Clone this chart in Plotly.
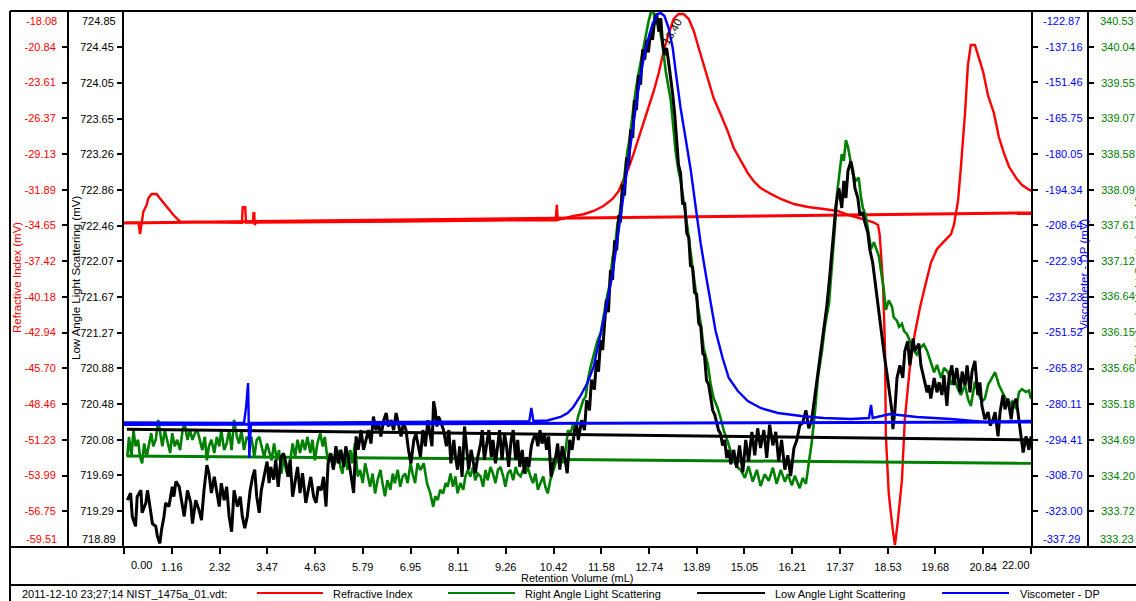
import plotly.graph_objects as go

# ---------------------------------------------------------------- data
# Retention volume (mL) / detector response (mV)

# Refractive Index
ri_x = [0.07, 0.35, 0.39, 0.43, 0.47, 0.55, 0.59, 0.67, 0.79, 0.87,
        1.04, 1.20, 1.36, 2.86, 2.88, 2.94, 2.96, 3.13, 3.14, 3.16,
        3.17, 3.20, 6.70, 10.10, 10.47, 10.50, 10.52, 10.90, 11.15, 11.39,
        11.63, 11.85, 12.00, 12.12, 12.24, 12.36, 12.48, 12.60, 12.72, 12.85,
        12.97, 13.09, 13.21, 13.33, 13.45, 13.57, 13.70, 13.82, 13.94, 14.06,
        14.18, 14.30, 14.47, 14.64, 14.79, 14.96, 15.13, 15.27, 15.44, 15.69,
        15.93, 16.25, 16.59, 16.97, 17.31, 17.58, 17.92, 18.16, 18.29, 18.33,
        18.41, 18.46, 18.48, 18.55, 18.65, 18.70, 18.77, 18.87, 18.94, 19.06,
        19.18, 19.31, 19.45, 19.57, 19.72, 19.89, 20.06, 20.13, 20.23, 20.30,
        20.40, 20.47, 20.54, 20.64, 20.71, 20.84, 20.96, 21.10, 21.22, 21.35,
        21.47, 21.64, 21.78, 22.00]
ri_mv = [-34.44, -34.44, -35.32, -34.23, -33.59, -33.07, -32.56, -32.22, -32.22, -32.56,
         -33.20, -33.85, -34.36, -34.44, -33.25, -33.25, -34.44, -34.44, -33.71, -33.71,
         -34.62, -34.44, -34.35, -34.23, -34.23, -33.07, -34.23, -33.92, -33.79, -33.54,
         -33.15, -32.61, -31.99, -31.06, -30.21, -29.13, -27.97, -26.81, -25.58, -24.26,
         -22.87, -21.17, -19.86, -18.70, -18.31, -18.31, -18.70, -19.62, -20.94, -22.17,
         -23.49, -24.80, -26.04, -27.35, -28.67, -29.67, -30.60, -31.22, -31.76, -32.22,
         -32.61, -33.00, -33.23, -33.38, -33.54, -33.85, -34.16, -34.39, -34.62, -35.39,
         -39.10, -44.36, -50.93, -55.41, -58.27, -59.36, -57.50, -54.33, -49.62, -45.67,
         -43.05, -40.96, -39.10, -37.56, -36.47, -35.86, -35.32, -34.62, -32.76, -30.14,
         -25.96, -22.25, -20.71, -20.71, -21.40, -22.79, -24.65, -25.96, -27.82, -29.13,
         -30.14, -30.99, -31.53, -31.99]
ri_base_x = [0.00, 22.00]
ri_base_mv = [-34.46, -33.69]

# Right Angle Light Scattering
rals_x = [0.08, 0.12, 0.18, 0.23, 0.28, 0.34, 0.39, 0.44, 0.49, 0.55,
          0.61, 0.66, 0.71, 0.77, 0.83, 0.87, 0.93, 0.99, 1.05, 1.12,
          1.17, 1.23, 1.29, 1.36, 1.42, 1.47, 1.54, 1.60, 1.66, 1.72,
          1.78, 1.85, 1.90, 1.96, 2.01, 2.06, 2.12, 2.19, 2.25, 2.31,
          2.36, 2.43, 2.49, 2.55, 2.61, 2.67, 2.74, 2.79, 2.85, 2.91,
          2.98, 3.04, 3.09, 3.16, 3.22, 3.28, 3.33, 3.40, 3.47, 3.52,
          3.58, 3.64, 3.71, 3.76, 3.82, 3.87, 3.93, 3.98, 4.03, 4.09,
          4.15, 4.21, 4.27, 4.33, 4.39, 4.45, 4.52, 4.57, 4.63, 4.69,
          4.76, 4.82, 4.87, 4.94, 5.00, 5.06, 5.12, 5.18, 5.25, 5.30,
          5.36, 5.42, 5.49, 5.54, 5.60, 5.67, 5.73, 5.79, 5.85, 5.91,
          5.97, 6.03, 6.09, 6.15, 6.22, 6.27, 6.33, 6.39, 6.46, 6.52,
          6.57, 6.64, 6.70, 6.76, 6.82, 6.88, 6.95, 7.00, 7.06, 7.12,
          7.19, 7.27, 7.35, 7.43, 7.50, 7.55, 7.61, 7.67, 7.74, 7.80,
          7.85, 7.92, 7.98, 8.04, 8.09, 8.16, 8.23, 8.28, 8.34, 8.40,
          8.47, 8.52, 8.58, 8.65, 8.71, 8.77, 8.82, 8.89, 8.95, 9.01,
          9.07, 9.13, 9.20, 9.25, 9.31, 9.37, 9.44, 9.50, 9.55, 9.62,
          9.68, 9.74, 9.79, 9.86, 9.92, 9.98, 10.04, 10.10, 10.17, 10.22,
          10.28, 10.34, 10.41, 10.47, 10.52, 10.59, 10.65, 10.71, 10.77, 10.83,
          10.90, 10.95, 11.01, 11.07, 11.14, 11.20, 11.25, 11.32, 11.38, 11.44,
          11.49, 11.56, 11.61, 11.66, 11.73, 11.78, 11.85, 11.90, 11.97, 12.02,
          12.09, 12.14, 12.21, 12.26, 12.34, 12.38, 12.46, 12.53, 12.58, 12.63,
          12.68, 12.72, 12.77, 12.82, 12.89, 12.97, 13.02, 13.06, 13.14, 13.21,
          13.26, 13.31, 13.38, 13.45, 13.50, 13.55, 13.60, 13.67, 13.74, 13.82,
          13.91, 13.99, 14.06, 14.16, 14.23, 14.30, 14.40, 14.47, 14.55, 14.64,
          14.72, 14.79, 14.89, 14.96, 15.06, 15.15, 15.25, 15.35, 15.44, 15.54,
          15.64, 15.74, 15.83, 15.93, 16.03, 16.10, 16.20, 16.27, 16.39, 16.46,
          16.54, 16.59, 16.68, 16.76, 16.83, 16.93, 17.00, 17.10, 17.17, 17.24,
          17.29, 17.36, 17.41, 17.46, 17.51, 17.56, 17.63, 17.68, 17.75, 17.82,
          17.87, 17.92, 17.99, 18.07, 18.12, 18.19, 18.24, 18.31, 18.36, 18.43,
          18.48, 18.55, 18.63, 18.67, 18.75, 18.80, 18.87, 18.92, 18.99, 19.06,
          19.11, 19.16, 19.23, 19.31, 19.40, 19.48, 19.57, 19.65, 19.72, 19.82,
          19.89, 19.99, 20.06, 20.13, 20.23, 20.30, 20.40, 20.47, 20.54, 20.64,
          20.71, 20.81, 20.88, 20.96, 21.05, 21.13, 21.22, 21.30, 21.37, 21.47,
          21.54, 21.64, 21.71, 21.78, 21.88, 21.95, 22.00]
rals_mv = [334.46, 334.73, 334.46, 334.82, 334.60, 334.69, 334.46, 334.37, 334.64, 334.46,
           334.64, 334.78, 334.60, 334.69, 334.96, 334.82, 334.60, 334.82, 334.69, 334.51,
           334.78, 334.60, 334.69, 334.55, 334.82, 334.91, 334.69, 334.82, 334.69, 334.78,
           334.82, 334.64, 334.55, 334.73, 334.41, 334.60, 334.69, 334.51, 334.73, 334.60,
           334.82, 334.55, 334.64, 334.82, 334.55, 334.96, 334.73, 334.64, 334.82, 334.55,
           334.73, 334.69, 334.73, 334.46, 334.69, 334.73, 334.60, 334.46, 334.64, 334.55,
           334.41, 334.64, 334.41, 334.55, 334.23, 334.46, 334.28, 334.19, 334.37, 334.64,
           334.46, 334.69, 334.51, 334.69, 334.55, 334.73, 334.51, 334.69, 334.41, 334.64,
           334.78, 334.60, 334.73, 334.41, 334.51, 334.32, 334.37, 334.55, 334.32, 334.23,
           334.51, 334.28, 334.55, 334.37, 334.64, 334.19, 334.28, 334.10, 334.37, 334.19,
           334.05, 334.23, 333.96, 334.14, 334.28, 334.10, 333.92, 334.14, 334.01, 334.23,
           334.10, 334.28, 334.05, 334.19, 334.23, 334.10, 334.37, 334.23, 334.10, 334.37,
           334.28, 334.37, 334.10, 333.96, 333.78, 333.92, 333.87, 334.01, 333.96, 334.10,
           334.05, 334.23, 334.05, 334.19, 333.96, 334.10, 334.01, 334.19, 334.28, 334.19,
           334.32, 334.14, 334.23, 334.19, 334.05, 334.28, 334.14, 334.32, 334.23, 334.10,
           334.28, 334.32, 334.19, 334.05, 334.23, 334.28, 334.14, 334.32, 334.23, 334.19,
           334.28, 334.23, 334.32, 334.19, 334.10, 334.23, 334.01, 334.10, 334.19, 334.05,
           333.96, 334.14, 334.28, 334.37, 334.41, 334.51, 334.37, 334.55, 334.82, 334.78,
           334.91, 334.82, 335.00, 335.10, 335.23, 335.28, 335.50, 335.69, 335.82, 335.91,
           336.05, 336.14, 336.31, 336.46, 336.68, 336.80, 337.17, 337.28, 337.63, 337.75,
           338.08, 338.23, 338.62, 338.77, 339.17, 339.32, 339.62, 339.84, 339.94, 340.11,
           340.26, 340.38, 340.49, 340.60, 340.35, 340.43, 340.20, 340.08, 339.71, 339.48,
           339.32, 339.03, 338.62, 338.35, 338.23, 338.04, 337.81, 337.57, 337.26, 336.89,
           336.54, 336.27, 335.94, 335.72, 335.45, 335.26, 335.12, 334.99, 334.81, 334.67,
           334.54, 334.40, 334.31, 334.28, 334.17, 334.33, 334.12, 334.28, 334.06, 334.22,
           334.13, 334.31, 334.09, 334.28, 334.12, 334.22, 334.07, 334.20, 334.03, 334.17,
           334.09, 334.28, 334.65, 335.07, 335.53, 335.90, 336.23, 336.55, 337.00, 337.56,
           338.02, 338.35, 338.58, 338.49, 338.77, 338.68, 338.49, 338.31, 338.22, 338.26,
           338.02, 337.85, 337.75, 337.48, 337.29, 337.38, 337.29, 337.19, 337.00, 336.73,
           336.46, 336.59, 336.50, 336.36, 336.31, 336.23, 336.27, 336.17, 336.13, 336.04,
           335.94, 335.90, 335.85, 335.94, 335.99, 335.90, 335.76, 335.61, 335.71, 335.53,
           335.67, 335.61, 335.44, 335.53, 335.38, 335.30, 335.44, 335.25, 335.15, 335.48,
           335.34, 335.21, 335.25, 335.44, 335.53, 335.61, 335.44, 335.34, 335.25, 335.15,
           335.21, 335.11, 335.34, 335.38, 335.34, 335.36, 335.25]
rals_base_x = [0.07, 22.00]
rals_base_mv = [334.47, 334.37]

# Low Angle Light Scattering
lals_x = [0.08, 0.16, 0.20, 0.28, 0.32, 0.41, 0.44, 0.53, 0.57, 0.65,
          0.69, 0.77, 0.81, 0.87, 0.91, 0.97, 1.01, 1.09, 1.17, 1.21,
          1.26, 1.34, 1.39, 1.46, 1.54, 1.62, 1.66, 1.74, 1.82, 1.88,
          1.94, 2.01, 2.06, 2.12, 2.19, 2.25, 2.31, 2.36, 2.43, 2.49,
          2.55, 2.61, 2.67, 2.75, 2.82, 2.87, 2.93, 2.99, 3.06, 3.12,
          3.17, 3.22, 3.28, 3.33, 3.40, 3.47, 3.52, 3.56, 3.63, 3.68,
          3.74, 3.81, 3.87, 3.93, 3.98, 4.03, 4.09, 4.15, 4.21, 4.27,
          4.33, 4.41, 4.47, 4.53, 4.60, 4.66, 4.71, 4.78, 4.84, 4.90,
          4.95, 5.02, 5.08, 5.14, 5.20, 5.26, 5.33, 5.38, 5.44, 5.51,
          5.57, 5.63, 5.68, 5.75, 5.81, 5.87, 5.93, 5.99, 6.05, 6.11,
          6.17, 6.23, 6.30, 6.36, 6.41, 6.48, 6.54, 6.60, 6.65, 6.72,
          6.78, 6.84, 6.90, 6.96, 7.03, 7.08, 7.14, 7.19, 7.25, 7.31,
          7.37, 7.43, 7.47, 7.51, 7.55, 7.59, 7.63, 7.69, 7.75, 7.82,
          7.88, 7.93, 8.00, 8.04, 8.09, 8.14, 8.20, 8.26, 8.32, 8.36,
          8.42, 8.47, 8.52, 8.58, 8.65, 8.69, 8.74, 8.79, 8.85, 8.91,
          8.95, 9.01, 9.07, 9.11, 9.17, 9.23, 9.28, 9.33, 9.39, 9.44,
          9.50, 9.55, 9.60, 9.66, 9.71, 9.76, 9.82, 9.88, 9.92, 9.98,
          10.04, 10.09, 10.14, 10.20, 10.25, 10.30, 10.36, 10.41, 10.47, 10.52,
          10.57, 10.63, 10.69, 10.75, 10.81, 10.87, 10.93, 10.98, 11.02, 11.10,
          11.17, 11.22, 11.29, 11.34, 11.41, 11.46, 11.51, 11.56, 11.61, 11.66,
          11.70, 11.75, 11.80, 11.85, 11.90, 11.95, 12.00, 12.04, 12.09, 12.14,
          12.19, 12.24, 12.29, 12.34, 12.38, 12.43, 12.48, 12.53, 12.58, 12.63,
          12.68, 12.72, 12.77, 12.82, 12.87, 12.92, 12.97, 13.02, 13.06, 13.11,
          13.16, 13.21, 13.26, 13.31, 13.36, 13.40, 13.45, 13.50, 13.55, 13.60,
          13.65, 13.70, 13.74, 13.79, 13.84, 13.89, 13.94, 13.99, 14.04, 14.08,
          14.13, 14.18, 14.23, 14.28, 14.33, 14.38, 14.42, 14.47, 14.52, 14.57,
          14.62, 14.67, 14.72, 14.79, 14.86, 14.93, 15.01, 15.08, 15.15, 15.23,
          15.30, 15.37, 15.44, 15.52, 15.59, 15.66, 15.74, 15.81, 15.88, 15.95,
          16.03, 16.10, 16.17, 16.25, 16.32, 16.39, 16.46, 16.54, 16.61, 16.68,
          16.76, 16.83, 16.90, 16.97, 17.05, 17.12, 17.19, 17.27, 17.34, 17.41,
          17.46, 17.51, 17.56, 17.63, 17.68, 17.73, 17.80, 17.85, 17.92, 17.97,
          18.04, 18.09, 18.16, 18.24, 18.29, 18.33, 18.38, 18.46, 18.50, 18.55,
          18.63, 18.65, 18.70, 18.75, 18.82, 18.89, 18.94, 19.01, 19.06, 19.14,
          19.18, 19.28, 19.33, 19.40, 19.48, 19.52, 19.57, 19.65, 19.72, 19.77,
          19.84, 19.89, 19.96, 20.01, 20.08, 20.13, 20.20, 20.28, 20.33, 20.40,
          20.45, 20.52, 20.57, 20.64, 20.71, 20.76, 20.81, 20.88, 20.96, 21.01,
          21.08, 21.13, 21.20, 21.25, 21.32, 21.37, 21.44, 21.52, 21.56, 21.64,
          21.69, 21.76, 21.81, 21.88, 21.95, 22.00]
lals_mv = [719.41, 719.49, 719.23, 719.12, 719.45, 719.52, 719.27, 719.38, 719.52, 719.30,
           719.15, 719.12, 719.01, 718.93, 719.08, 719.23, 719.38, 719.34, 719.56, 719.45,
           719.62, 719.56, 719.41, 719.23, 719.52, 719.38, 719.15, 719.41, 719.30, 719.19,
           719.52, 719.80, 719.71, 719.49, 719.67, 719.52, 719.34, 719.60, 719.41, 719.56,
           719.23, 719.06, 719.52, 719.34, 719.45, 719.23, 719.10, 719.23, 719.52, 719.67,
           719.75, 719.45, 719.27, 719.52, 719.67, 719.84, 719.60, 719.78, 719.64, 719.86,
           719.56, 719.89, 719.93, 719.82, 719.67, 719.86, 719.45, 719.64, 719.78, 719.49,
           719.71, 719.38, 719.52, 719.67, 719.45, 719.38, 719.56, 719.52, 719.67, 719.34,
           719.82, 719.93, 719.75, 720.01, 719.82, 719.97, 719.78, 720.01, 719.89, 719.67,
           719.49, 720.12, 719.97, 720.19, 719.97, 720.08, 720.19, 720.04, 720.34, 720.19,
           720.27, 720.12, 720.30, 720.38, 720.23, 720.30, 720.19, 720.38, 720.27, 720.12,
           720.27, 720.19, 719.97, 719.82, 720.08, 720.15, 720.01, 719.89, 720.19, 720.01,
           720.30, 720.15, 720.01, 720.51, 720.41, 720.23, 720.34, 720.27, 720.19, 720.01,
           720.19, 719.82, 720.08, 719.89, 719.75, 720.01, 719.67, 720.23, 719.89, 719.75,
           719.97, 719.82, 719.71, 719.89, 720.04, 720.19, 719.86, 720.01, 720.19, 719.89,
           720.08, 719.82, 720.04, 720.19, 719.86, 720.15, 720.01, 719.78, 720.08, 720.19,
           719.86, 720.08, 719.78, 719.97, 719.71, 719.89, 719.78, 720.01, 720.08, 720.15,
           720.01, 720.19, 720.04, 720.15, 719.97, 720.12, 719.67, 719.82, 719.89, 720.04,
           719.75, 720.01, 719.89, 719.71, 720.08, 719.97, 720.19, 720.25, 720.08, 720.30,
           720.19, 720.52, 720.41, 720.75, 720.64, 720.97, 720.84, 721.19, 721.08, 721.44,
           721.64, 721.50, 721.97, 721.86, 722.30, 722.19, 722.58, 722.50, 722.92, 722.80,
           723.22, 723.14, 723.53, 723.44, 723.86, 723.75, 724.14, 724.03, 724.42, 724.31,
           724.53, 724.39, 724.62, 724.53, 724.75, 724.82, 724.62, 724.77, 724.51, 724.36,
           724.44, 724.28, 724.11, 723.92, 723.69, 723.42, 723.14, 723.05, 722.70, 722.72,
           722.38, 722.33, 722.02, 722.00, 721.72, 721.70, 721.38, 721.34, 721.04, 721.02,
           720.74, 720.70, 720.55, 720.41, 720.36, 720.28, 720.19, 720.15, 720.02, 720.08,
           719.88, 719.97, 719.81, 719.97, 719.77, 720.02, 719.72, 720.08, 719.84, 720.17,
           719.91, 720.21, 719.99, 720.19, 719.88, 720.25, 720.02, 720.17, 719.84, 720.08,
           719.75, 719.91, 719.68, 719.99, 720.08, 720.24, 720.27, 720.41, 720.21, 720.30,
           720.58, 720.86, 721.08, 721.30, 721.58, 721.91, 722.30, 722.69, 722.88, 722.66,
           722.96, 722.77, 723.07, 723.18, 723.07, 722.88, 722.77, 722.58, 722.61, 722.50,
           722.39, 722.20, 722.05, 721.75, 721.56, 721.45, 721.21, 720.96, 720.84, 720.65,
           720.39, 720.20, 720.42, 720.77, 720.91, 720.77, 721.07, 721.18, 720.91, 721.21,
           721.07, 721.15, 720.91, 720.77, 720.61, 720.69, 720.54, 720.77, 720.61, 720.72,
           720.58, 720.80, 720.46, 720.77, 720.91, 720.69, 720.88, 720.61, 720.84, 720.69,
           720.91, 720.61, 720.84, 720.96, 720.58, 720.72, 720.46, 720.31, 720.39, 720.24,
           720.31, 720.39, 720.12, 720.39, 720.58, 720.42, 720.54, 720.31, 720.47, 720.54,
           720.35, 720.12, 719.94, 720.12, 719.97, 720.12]
lals_base_x = [0.07, 22.00]
lals_base_mv = [720.20, 720.08]

# Viscometer - DP
visc_x = [0.00, 1.85, 2.91, 2.96, 3.01, 3.04, 3.08, 6.70, 9.83, 9.88,
          9.93, 10.27, 10.42, 10.59, 10.76, 10.90, 11.07, 11.24, 11.39, 11.51,
          11.68, 11.85, 11.97, 12.09, 12.21, 12.34, 12.46, 12.58, 12.70, 12.82,
          12.94, 13.02, 13.11, 13.21, 13.31, 13.38, 13.50, 13.62, 13.75, 13.87,
          13.99, 14.11, 14.23, 14.35, 14.52, 14.67, 14.89, 15.13, 15.44, 15.86,
          16.42, 16.97, 17.63, 18.07, 18.12, 18.16, 18.58, 19.23, 20.06, 20.88,
          22.00]
visc_mv = [-287.49, -287.49, -287.69, -281.68, -271.68, -301.69, -287.69, -287.28, -287.08, -281.68,
           -286.88, -286.68, -286.08, -285.28, -283.68, -281.28, -276.88, -271.68, -265.28, -256.08,
           -242.88, -228.08, -213.68, -198.88, -184.07, -169.67, -156.07, -144.07, -134.87, -128.07,
           -124.07, -123.67, -124.87, -129.67, -137.67, -146.87, -161.67, -173.67, -186.87, -201.68,
           -216.08, -228.08, -240.08, -250.88, -261.68, -269.68, -274.88, -278.88, -281.68, -283.68,
           -284.88, -285.68, -286.08, -285.68, -280.48, -285.68, -284.08, -285.28, -286.08, -287.28,
           -286.88]
visc_base_x = [0.00, 22.00]
visc_base_mv = [-288.29, -287.29]

# axis tick labels
x_ticks = ["0.00", "1.16", "2.32", "3.47", "4.63", "5.79", "6.95", "8.11", "9.26", "10.42",
           "11.58", "12.74", "13.89", "15.05", "16.21", "17.37", "18.53", "19.68", "20.84", "22.00"]
ri_ticks = ["-59.51", "-56.75", "-53.99", "-51.23", "-48.46", "-45.70", "-42.94", "-40.18",
            "-37.42", "-34.65", "-31.89", "-29.13", "-26.37", "-23.61", "-20.84", "-18.08"]
lals_ticks = ["718.89", "719.29", "719.69", "720.08", "720.48", "720.88", "721.27", "721.67",
              "722.07", "722.46", "722.86", "723.26", "723.65", "724.05", "724.45", "724.85"]
visc_ticks = ["-337.29", "-323.00", "-308.70", "-294.41", "-280.11", "-265.82", "-251.52", "-237.23",
              "-222.93", "-208.64", "-194.34", "-180.05", "-165.75", "-151.46", "-137.16", "-122.87"]
rals_ticks = ["333.23", "333.72", "334.20", "334.69", "335.18", "335.66", "336.15", "336.64",
              "337.12", "337.61", "338.09", "338.58", "339.07", "339.55", "340.04", "340.53"]

peak_label = "13.40"
run_label = "2011-12-10 23;27;14 NIST_1475a_01.vdt:"

# ---------------------------------------------------------------- layout helpers
W, H = 1136, 601
TOP, BOTTOM = 11, 547          # plot area top / bottom (px)
LEFT, RIGHT = 124, 1031        # plot area left / right (px)
FONT = "Liberation Sans, Arial, Helvetica, sans-serif"

RED, GREEN, BLACK, BLUE = "#ff0000", "#008000", "#000000", "#0000ff"


def fx(p):
    return p / W


def fy(p):
    return (BOTTOM - p) / (BOTTOM - TOP)


def y_axis(labels, color, side, standoff, **extra):
    vals = [float(t) for t in labels]
    return dict(
        range=[vals[0], vals[-1]], tickmode="array", tickvals=vals,
        ticktext=[""] + labels[1:-1] + [""], side=side,
        ticks="outside", ticklen=5, tickwidth=2, tickcolor="black",
        showline=True, linecolor="black", linewidth=2,
        showgrid=False, zeroline=False, fixedrange=True,
        tickfont=dict(family=FONT, size=11, color=color),
        ticklabelstandoff=standoff, **extra)


fig = go.Figure()

# drawing order: RI, RALS, LALS, viscometer on top
series = [
    ("Refractive Index", ri_x, ri_mv, ri_base_x, ri_base_mv, RED, "y", 2.4),
    ("Right Angle Light Scattering", rals_x, rals_mv, rals_base_x, rals_base_mv, GREEN, "y2", 2.6),
    ("Low Angle Light Scattering", lals_x, lals_mv, lals_base_x, lals_base_mv, BLACK, "y3", 3),
    ("Viscometer - DP", visc_x, visc_mv, visc_base_x, visc_base_mv, BLUE, "y4", 2.4),
]
for name, xs, ys, bx, by, col, ax, lw in series:
    fig.add_trace(go.Scatter(x=bx, y=by, yaxis=ax, mode="lines", name=name + " baseline",
                             line=dict(color=col, width=3), showlegend=False, hoverinfo="skip"))
    fig.add_trace(go.Scatter(x=xs, y=ys, yaxis=ax, mode="lines", name=name,
                             line=dict(color=col, width=lw), showlegend=False))

xvals = [float(t) for t in x_ticks]
fig.update_layout(
    width=W, height=H,
    margin=dict(l=0, r=0, t=TOP, b=H - BOTTOM, pad=0),
    paper_bgcolor="white", plot_bgcolor="white", showlegend=False,
    font=dict(family=FONT, size=11, color="black"),
    xaxis=dict(domain=[fx(LEFT), fx(RIGHT)], range=[0, 22], anchor="y",
               tickmode="array", tickvals=xvals, ticktext=[""] + x_ticks[1:-1] + [""],
               ticks="outside", ticklen=6, tickwidth=2, tickcolor="black",
               showline=False, showgrid=False, zeroline=False, fixedrange=True,
               tickfont=dict(family=FONT, size=11, color="black"), ticklabelstandoff=4),
    yaxis=y_axis(ri_ticks, RED, "left", 4, anchor="free", position=fx(68)),
    yaxis2=y_axis(rals_ticks, GREEN, "right", 5, anchor="free", position=fx(1088), overlaying="y"),
    yaxis3=y_axis(lals_ticks, BLACK, "left", 1, anchor="x", overlaying="y"),
    yaxis4=y_axis(visc_ticks, BLUE, "right", 5, anchor="x", overlaying="y"),
)

ann = []


def text(x, y, s, color="black", size=11, xanchor="center", yanchor="middle",
         xref="paper", yref="paper", angle=0, xshift=0, yshift=0):
    ann.append(dict(x=x, y=y, text=s, xref=xref, yref=yref, showarrow=False,
                    xanchor=xanchor, yanchor=yanchor, textangle=angle,
                    xshift=xshift, yshift=yshift, borderpad=0, borderwidth=0,
                    font=dict(family=FONT, size=size, color=color)))


# end-of-axis tick labels sit inside the axis span
for labels, ref, xp, xa, xs, col in [
        (ri_ticks, "y", 68, "right", -11, RED),
        (lals_ticks, "y3", LEFT, "right", -8, BLACK),
        (visc_ticks, "y4", RIGHT, "left", 12, BLUE),
        (rals_ticks, "y2", 1088, "left", 12, GREEN)]:
    text(fx(xp), float(labels[-1]), labels[-1], color=col, xanchor=xa, yref=ref, xshift=xs, yshift=-10)
    text(fx(xp), float(labels[0]), labels[0], color=col, xanchor=xa, yref=ref, xshift=xs, yshift=8)
text(float(x_ticks[0]), fy(565), x_ticks[0], xref="x", xanchor="left", xshift=7)
text(float(x_ticks[-1]), fy(565), x_ticks[-1], xref="x", xanchor="right", xshift=-1)

# axis titles (the right-angle title runs off the right edge of the page)
text(fx(17), fy(278), "Refractive Index (mV)", color=RED, size=11.5, angle=-90)
text(fx(76), fy(278), "Low Angle Light Scattering (mV)", color=BLACK, size=11.5, angle=-90)
text(fx(1084), fy(274), "Viscometer - DP (mV)", color=BLUE, size=11.5, angle=-90)
text(fx(1139), fy(280), "Right Angle Light Scattering (mV)", color=GREEN, size=11.5, angle=-90)
text(0.5 * (fx(LEFT) + fx(RIGHT)), fy(578), "Retention Volume (mL)")

# peak marker label
text(13.30, fy(31), peak_label, xref="x", angle=-60, size=11)

# legend strip
text(fx(22), fy(594), run_label, xanchor="left")
shapes = []
legend_items = [("Refractive Index", RED, 257, 323, 333),
                ("Right Angle Light Scattering", GREEN, 448, 515, 525),
                ("Low Angle Light Scattering", BLACK, 697, 765, 775),
                ("Viscometer - DP", BLUE, 942, 1009, 1020)]
for name, col, x0, x1, xt in legend_items:
    shapes.append(dict(type="line", xref="paper", yref="paper", x0=fx(x0), x1=fx(x1),
                       y0=fy(593), y1=fy(593), line=dict(color=col, width=2)))
    text(fx(xt), fy(594), name, xanchor="left")

# chart frame
frame = dict(color="black", width=2)
for x0, y0, x1, y1 in [(10, TOP, W, TOP), (10, BOTTOM, W, BOTTOM), (10, 585, W, 585),
                       (10, TOP, 10, H)]:
    shapes.append(dict(type="line", xref="paper", yref="paper", x0=fx(x0), y0=fy(y0),
                       x1=fx(x1), y1=fy(y1), line=frame))

fig.update_layout(annotations=ann, shapes=shapes)
fig.write_html("out.html")
